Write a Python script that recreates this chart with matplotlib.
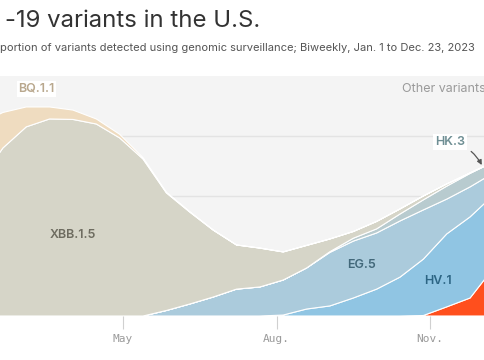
import matplotlib
matplotlib.use("Agg")
import matplotlib.pyplot as plt
import matplotlib.dates as mdates
import pandas as pd

# ---------------- data ----------------
dates = ["2023-01-07", "2023-01-21", "2023-02-04", "2023-02-18", "2023-03-04",
         "2023-03-18", "2023-04-01", "2023-04-15", "2023-04-29", "2023-05-13",
         "2023-05-27", "2023-06-10", "2023-06-24", "2023-07-08", "2023-07-22",
         "2023-08-05", "2023-08-19", "2023-09-02", "2023-09-16", "2023-09-30",
         "2023-10-14", "2023-10-28", "2023-11-11", "2023-11-25", "2023-12-09",
         "2023-12-23"]

jn1 = [0, 0, 0, 0, 0, 0, 0, 0, 0, 0, 0, 0, 0, 0, 0, 0, 0, 0, 0, 0, 0,
       0.2, 3.8, 7.5, 20, 35]
hv1 = [0, 0, 0, 0, 0, 0, 0, 0, 0, 0, 0, 0, 0, 0, 0,
       0.4, 2.9, 4.2, 7.5, 11.2, 16.2, 23.5, 30.4, 33.8, 30.4, 22]
eg5 = [0, 0, 0, 0, 0, 0, 0, 0, 0, 0,
       2.3, 5.0, 7.9, 11.2, 12.1, 14.6, 17.1, 22.3, 23.7, 23.4, 23.4, 20.5,
       14.5, 12.5, 9.2, 5.9]
hk3 = [0, 0, 0, 0, 0, 0, 0, 0, 0, 0, 0, 0, 0, 0, 0, 0, 0,
       0.3, 1.2, 1.7, 2.9, 4.2, 5.4, 5.6, 4.6, 4.2]
xbb = [25, 40, 56, 70, 78.8, 82.1, 81.9, 80.0, 74.2, 65.4, 49.0, 38.3, 27.9,
       18.4, 16.2, 11.7, 9.4, 5.3, 2.8, 3.1, 2.1, 1.6, 0.9, 0.2, 0, 0]
bq11 = [38, 33, 24, 14.8, 8.3, 5.0, 3.9, 2.1, 1.5, 0.6, 0.3, 0.2, 0.1,
        0, 0, 0, 0, 0, 0, 0, 0, 0, 0, 0, 0, 0]

tick_dates = ["2023-05-01", "2023-08-01", "2023-11-01"]
tick_labels = ["May", "Aug.", "Nov."]

title = "-19 variants in the U.S."
subtitle = ("portion of variants detected using genomic surveillance; "
            "Biweekly, Jan. 1 to Dec. 23, 2023")

# ---------------- figure ----------------
W, H = 485, 360
fig = plt.figure(figsize=(W / 100, H / 100), dpi=100)
fig.patch.set_facecolor("white")

# axes geometry (pixel based): Jan 1 -> -77 px, Dec 23 -> 517 px
x_left, x_right = -77.2, 516.8
y_top, y_bot = 76, 316
ax = fig.add_axes([x_left / W, 1 - y_bot / H, (x_right - x_left) / W,
                   (y_bot - y_top) / H])
ax.set_facecolor("#f4f4f4")

x = pd.to_datetime(dates)
colors = ["#ff4f1d", "#90c5e3", "#abcbdc", "#b8cbcf", "#d6d5c8", "#efdcc0"]
ax.stackplot(x, jn1, hv1, eg5, hk3, xbb, bq11, colors=colors,
             edgecolor="white", linewidth=0.8, zorder=2)

ax.set_xlim(pd.Timestamp("2023-01-01"), pd.Timestamp("2023-12-23"))
ax.set_ylim(0, 100)
ax.set_yticks([25, 50, 75])
ax.yaxis.grid(True, color="#e3e3e3", linewidth=1, zorder=0)
ax.set_axisbelow(True)
ax.tick_params(axis="y", left=False, labelleft=False)
for s in ax.spines.values():
    s.set_visible(False)

ax.set_xticks(pd.to_datetime(tick_dates))
ax.set_xticklabels(tick_labels)
ax.tick_params(axis="x", direction="out", length=9, width=0.8,
               color="#d0d0d0", pad=4, labelsize=8, labelcolor="#9a9a9a")
for lab in ax.get_xticklabels():
    lab.set_family("DejaVu Sans Mono")

# ---------------- labels ----------------
def d(s):
    return mdates.date2num(pd.Timestamp(s))

lab_font = "Inter"
ax.text(d("2023-03-10"), 94.6, "BQ.1.1", ha="center", va="center",
        fontsize=9, fontweight="semibold", color="#b9a88e", family=lab_font,
        bbox=dict(facecolor="white", edgecolor="none", pad=1.2), zorder=5)
ax.text(d("2023-10-15"), 94.6, "Other variants", ha="left", va="center",
        fontsize=9, color="#9a9a9a", family=lab_font, zorder=5)
ax.text(d("2023-04-01"), 33.8, "XBB.1.5", ha="center", va="center",
        fontsize=9, fontweight="semibold", color="#6e6c60", family=lab_font,
        zorder=5)
ax.text(d("2023-09-21"), 21.3, "EG.5", ha="center", va="center",
        fontsize=9, fontweight="semibold", color="#42687a", family=lab_font,
        zorder=5)
ax.text(d("2023-11-06"), 14.6, "HV.1", ha="center", va="center",
        fontsize=9, fontweight="semibold", color="#2c6584", family=lab_font,
        zorder=5)
ax.annotate("HK.3", xy=(d("2023-12-02"), 62.9),
            xytext=(d("2023-11-13"), 72.5), ha="center", va="center",
            fontsize=9, fontweight="semibold", color="#6f8f94",
            family=lab_font,
            bbox=dict(facecolor="white", edgecolor="none", pad=1.2),
            arrowprops=dict(arrowstyle="-|>", color="#555555", lw=0.9,
                            mutation_scale=7, shrinkA=4, shrinkB=0,
                            connectionstyle="arc3,rad=-0.25"),
            zorder=6)

# ---------------- title / subtitle ----------------
renderer = fig.canvas.get_renderer()

def fit(txt, target_w):
    bb = txt.get_window_extent(renderer)
    txt.set_fontsize(txt.get_fontsize() * target_w / bb.width)

t = fig.text(5 / W, 1 - 27 / H, title, fontsize=20, family="Inter",
             color="#333333", va="baseline", ha="left")
fit(t, 255)
s = fig.text(0.5 / W, 1 - 51 / H, subtitle, fontsize=8, family="Inter",
             color="#555555", va="baseline", ha="left")
fit(s, 477)

fig.savefig("out.png", dpi=100, facecolor="white")
